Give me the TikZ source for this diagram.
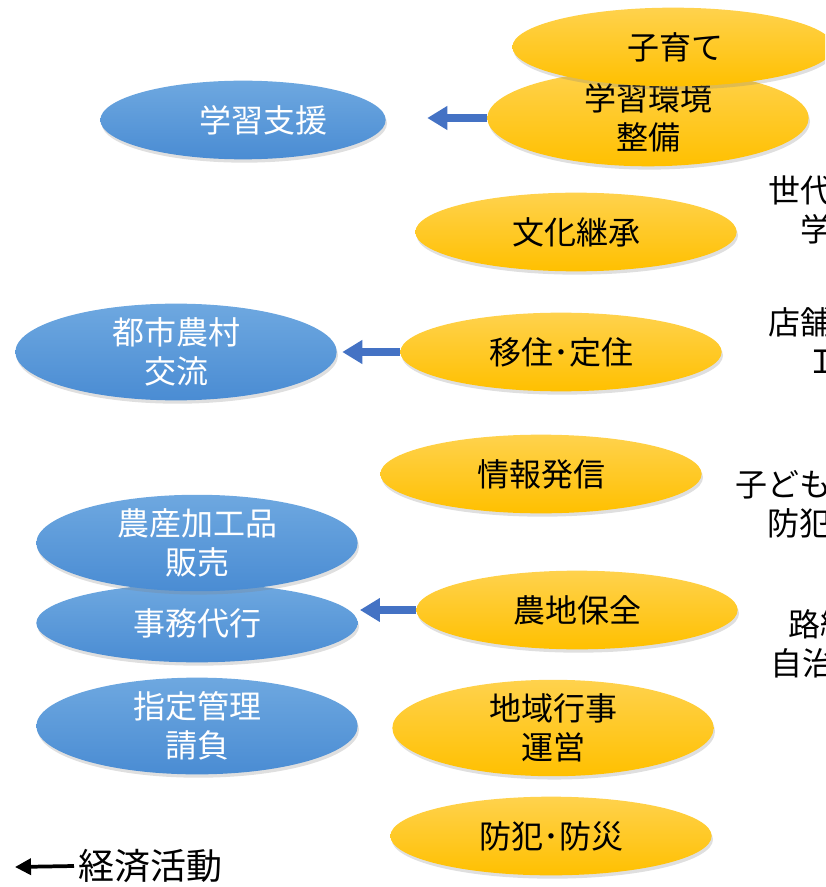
\documentclass[tikz,border=0pt]{standalone}
\usepackage{fontspec}
\setmainfont{Noto Sans CJK JP}
\usepackage{tikz}
\usetikzlibrary{calc,positioning,shapes.geometric,arrows.meta,shadows}
\usepackage{xcolor}
\definecolor{ActTop}{HTML}{FFD24D}
\definecolor{ActBottom}{HTML}{FFC000}
\definecolor{EcoTop}{HTML}{6EA8E0}
\definecolor{EcoBottom}{HTML}{4A8CD3}
\definecolor{ArrowBlue}{HTML}{4472C4}

\begin{document}
\begin{tikzpicture}[x=0.75pt, y=-0.75pt,
  every node/.style={font=\fontsize{24}{29}\selectfont, align=center},
  act/.style={ellipse, inner sep=0pt, minimum width=241pt, minimum height=59pt,
    top color=ActTop, bottom color=ActBottom, draw=none,
    drop shadow={shadow xshift=1pt, shadow yshift=-2.5pt, opacity=0.25}},
  eco/.style={act, top color=EcoTop, bottom color=EcoBottom, text=white},
  flow/.style={ArrowBlue, line width=5.5pt, -{Triangle[width=17pt,length=15pt]}}]
\useasboundingbox (0,0) rectangle (825,887);
\clip (0,0) rectangle (825,887);
% 経済活動（青）
\node[eco, minimum width=214pt] (shien) at (243,120) {\hspace*{30pt}学習支援};
\node[eco] (toshi) at (176,352) {都市農村\\交流};
\node[eco] (jimu) at (197,623) {事務代行};
\node[eco] (nousan) at (197,543) {農産加工品\\販売};
\node[eco] (shitei) at (197,726) {指定管理\\請負};
% 地域活動（黄）
\node[act] (kankyo) at (648,118) {学習環境\\整備};
\node[act] (kosodate) at (673,47) {\hspace*{4pt}子育て};
\foreach \n/\x/\y/\t in {bunka/576/232/文化継承, iju/561/352/移住･定住,
    jouhou/541/474/情報発信, nouchi/577/610/農地保全,
    gyouji/553/728/地域行事\\運営, bouhan/551/836/防犯･防災}
  \node[act] (\n) at (\x,\y) {\t};
% 右側（切れている）
\node[anchor=north west] (sedai) at (764,171) {世代間交流\\学習会};
\node[anchor=north west] (tenpo) at (764,303) {店舗運営支援\\ＩＣＴ\hspace*{16pt}};
\node[anchor=north west] (kodomo) at (731,465) {子ども見守り\\防犯活動};
\node[anchor=north west] (rosen) at (766,605) {\hspace*{2pt}路線バス運行\\自治会バス運営};
% 矢印
\draw[flow, shorten >=31pt] (kankyo.west) -- (kankyo.west -| shien.east);
\draw[flow, shorten >=4pt] (iju.west) -- (iju.west -| toshi.east);
\draw[flow, shorten >=1.5pt] (nouchi.west) -- (nouchi.west -| jimu.east);
% 凡例
\node[anchor=west, font=\fontsize{27}{30}\selectfont] (keizai) at (74,866) {経済活動};
\coordinate (legend) at (15,867);
\draw[line width=2.8pt, -{Triangle[width=12pt,length=12pt]}] (keizai.west) -- (legend);
\end{tikzpicture}
\end{document}
